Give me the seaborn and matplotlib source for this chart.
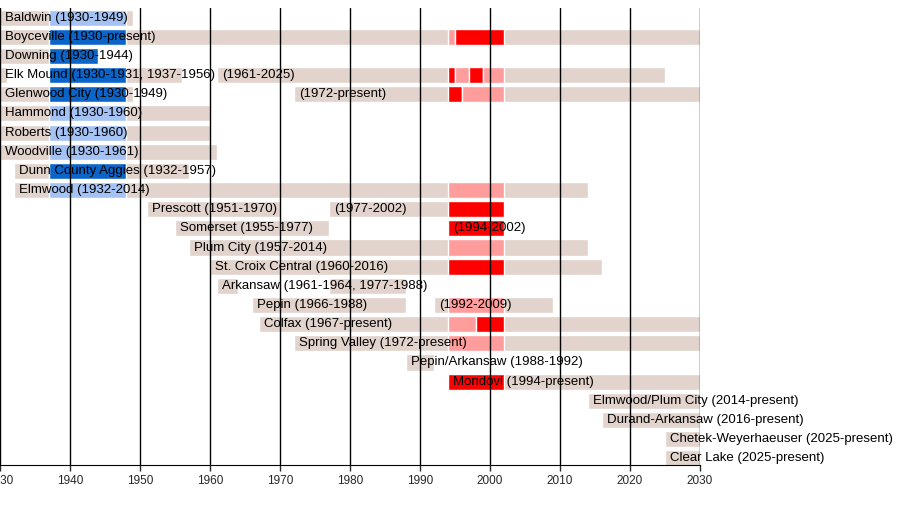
import matplotlib
matplotlib.use("Agg")
import matplotlib.pyplot as plt
import seaborn as sns

sns.set_style("white")
plt.rcParams['font.family'] = ['Liberation Sans', 'DejaVu Sans']

# team names, spans of existence, label texts with their start year
teams = ['Baldwin', 'Boyceville', 'Downing', 'Elk Mound', 'Glenwood City', 'Hammond',
         'Roberts', 'Woodville', 'Dunn County Aggies', 'Elmwood', 'Prescott', 'Somerset',
         'Plum City', 'St. Croix Central', 'Arkansaw', 'Pepin', 'Colfax', 'Spring Valley',
         'Pepin/Arkansaw', 'Mondovi', 'Elmwood/Plum City', 'Durand-Arkansaw',
         'Chetek-Weyerhaeuser', 'Clear Lake']
spans = [
    [(1930, 1949)], [(1930, 2030)], [(1930, 1944)], [(1930, 1931), (1937, 1956), (1961, 2025)],
    [(1930, 1949), (1972, 2030)], [(1930, 1960)], [(1930, 1960)], [(1930, 1961)],
    [(1932, 1957)], [(1932, 2014)], [(1951, 1970), (1977, 2002)], [(1955, 1977), (1994, 2002)],
    [(1957, 2014)], [(1960, 2016)], [(1961, 1964), (1977, 1988)], [(1966, 1988), (1992, 2009)],
    [(1967, 2030)], [(1972, 2030)], [(1988, 1992)], [(1994, 2030)], [(2014, 2030)],
    [(2016, 2030)], [(2025, 2030)], [(2025, 2030)]]
labels = [
    [(1930, 'Baldwin (1930-1949)')], [(1930, 'Boyceville (1930-present)')],
    [(1930, 'Downing (1930-1944)')],
    [(1930, 'Elk Mound (1930-1931, 1937-1956)'), (1961, '(1961-2025)')],
    [(1930, 'Glenwood City (1930-1949)'), (1972, '(1972-present)')],
    [(1930, 'Hammond (1930-1960)')], [(1930, 'Roberts (1930-1960)')],
    [(1930, 'Woodville (1930-1961)')], [(1932, 'Dunn County Aggies (1932-1957)')],
    [(1932, 'Elmwood (1932-2014)')],
    [(1951, 'Prescott (1951-1970)'), (1977, '(1977-2002)')],
    [(1955, 'Somerset (1955-1977)'), (1994, '(1994-2002)')],
    [(1957, 'Plum City (1957-2014)')], [(1960, 'St. Croix Central (1960-2016)')],
    [(1961, 'Arkansaw (1961-1964, 1977-1988)')],
    [(1966, 'Pepin (1966-1988)'), (1992, '(1992-2009)')],
    [(1967, 'Colfax (1967-present)')], [(1972, 'Spring Valley (1972-present)')],
    [(1988, 'Pepin/Arkansaw (1988-1992)')], [(1994, 'Mondovi (1994-present)')],
    [(2014, 'Elmwood/Plum City (2014-present)')], [(2016, 'Durand-Arkansaw (2016-present)')],
    [(2025, 'Chetek-Weyerhaeuser (2025-present)')], [(2025, 'Clear Lake (2025-present)')]]
# highlighted periods: (row, start, end, kind)
highlights = [
    (0, 1937, 1948, 'lb'), (1, 1937, 1948, 'db'), (2, 1937, 1944, 'db'), (3, 1937, 1948, 'db'),
    (4, 1937, 1948, 'db'), (5, 1937, 1948, 'lb'), (6, 1937, 1948, 'lb'), (7, 1937, 1948, 'lb'),
    (8, 1937, 1948, 'db'), (9, 1937, 1948, 'lb'),
    (1, 1994, 1995, 'lr'), (1, 1995, 2002, 'dr'),
    (3, 1994, 1995, 'dr'), (3, 1995, 1997, 'lr'), (3, 1997, 1999, 'dr'), (3, 1999, 2002, 'lr'),
    (4, 1994, 1996, 'dr'), (4, 1996, 2002, 'lr'), (9, 1994, 2002, 'lr'),
    (10, 1994, 2002, 'dr'), (11, 1994, 2002, 'dr'), (12, 1994, 2002, 'lr'),
    (13, 1994, 2002, 'dr'), (15, 1994, 2002, 'lr'), (16, 1994, 1998, 'lr'),
    (16, 1998, 2002, 'dr'), (17, 1994, 2002, 'lr'), (19, 1994, 2002, 'dr')]
colors = {'lb': '#a4c2f4', 'db': '#0b64c8', 'lr': '#ff9c9c', 'dr': '#ff0000'}
base = '#e2d4cc'

fig = plt.figure(figsize=(9, 5.15), dpi=100)
ax = fig.add_axes([0, 50 / 515, 700 / 900, 457 / 515])
h = 0.84
for i, sp in enumerate(spans):
    for s, e in sp:
        ax.barh(i, e - s, left=s, height=h, color=base, zorder=1)
for i, s, e, k in highlights:
    ax.barh(i, e - s, left=s, height=h, color=colors[k], zorder=2)
for yr in range(1930, 2031, 10):
    ax.axvline(yr, color='black', lw=1, zorder=3)
for i, lab in enumerate(labels):
    for s, t in lab:
        ax.text(s + 0.7, i, t, va='center', ha='left', fontsize=9.5, color='black',
                zorder=4, clip_on=False)

ax.set_xlim(1930, 2030)
ax.set_ylim(23.35, -0.5)
ax.set_xticks(range(1930, 2031, 10))
ax.set_yticks([])
for side in ['top', 'left', 'right']:
    ax.spines[side].set_visible(False)
ax.spines['bottom'].set_color('black')
ax.tick_params(axis='x', length=4, width=1, labelsize=8.5, direction='out', bottom=True)
fig.savefig('out.png', dpi=100)
